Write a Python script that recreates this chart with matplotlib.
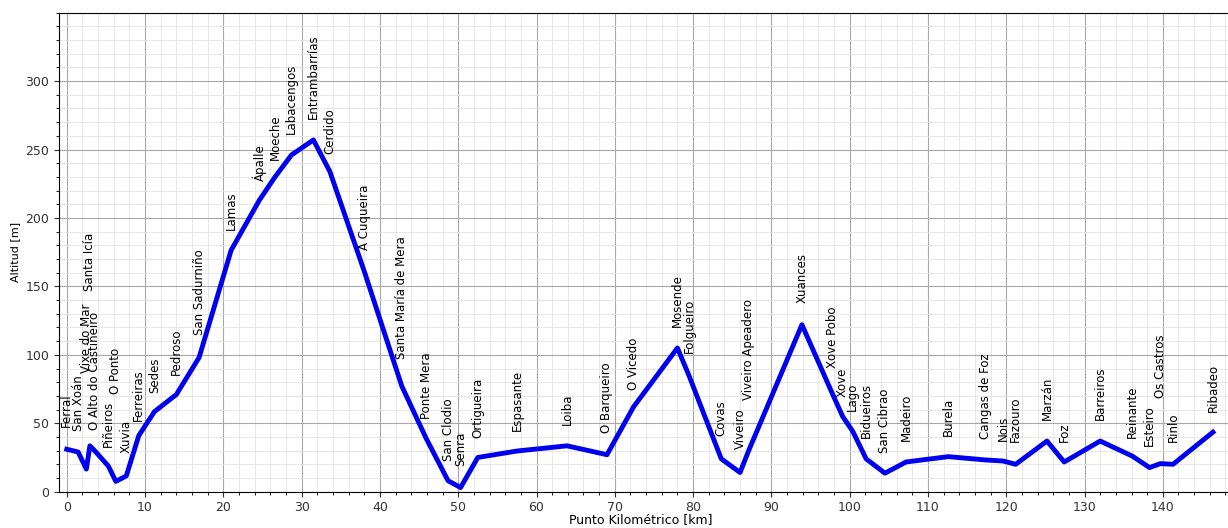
import matplotlib
matplotlib.use("Agg")
import matplotlib.pyplot as plt
from matplotlib.ticker import MultipleLocator

# Estaciones de la línea Ferrol - Ribadeo
estaciones = [
    "Ferral", "San Xoán", "Vixe do Mar", "Santa Icía", "O Alto do Castiñeiro",
    "Piñeiros", "O Ponto", "Xuvia", "Ferreiras", "Sedes", "Pedroso",
    "San Sadurniño", "Lamas", "Ápalle", "Moeche", "Labacengos",
    "Entrambarrías", "Cerdido", "A Cuqueira", "Santa María de Mera",
    "Ponte Mera", "San Clodio", "Senra", "Ortigueira", "Espasante", "Loiba",
    "O Barqueiro", "O Vicedo", "Mosende", "Folgueiro", "Covas", "Viveiro",
    "Viveiro Apeadero", "Xuances", "Xove Pobo", "Xove", "Lago", "Bidueiros",
    "San Cibrao", "Madeiro", "Burela", "Cangas de Foz", "Nois", "Fazouro",
    "Marzán", "Foz", "Barreiros", "Reinante", "Esteiro", "Os Castros",
    "Rinlo", "Ribadeo",
]

# Punto kilométrico de cada estación [km]
pk = [
    0.0, 1.45, 2.5, 2.95, 3.6,
    5.3, 6.27, 7.6, 9.2, 11.2, 14.0,
    16.9, 21.0, 24.6, 26.6, 28.7,
    31.5, 33.6, 38.0, 42.8,
    45.9, 48.7, 50.3, 52.5, 57.5, 63.9,
    69.0, 72.4, 78.0, 79.5, 83.6, 86.0,
    87.1, 93.9, 97.8, 99.1, 100.4, 102.1,
    104.5, 107.2, 112.6, 117.3, 119.6, 121.2,
    125.2, 127.4, 132.0, 136.1, 138.3, 139.7,
    141.3, 146.4,
]

# Altitud de cada estación [m]
altitud = [
    31, 29, 16.5, 33.5, 29.7,
    18.8, 7.5, 11.5, 41, 58.5, 71,
    98, 176.5, 213, 230, 246,
    257, 234, 161, 77,
    39, 8, 3, 25, 29.7, 33.5,
    27, 62, 105, 84.5, 24, 14,
    30, 122, 71.5, 55, 44, 24,
    13.5, 21.7, 25.6, 23.2, 22.4, 20,
    37, 21.7, 37, 26, 17.6, 20.5,
    20, 43.5,
]

# Separación vertical de cada rótulo sobre su estación [m]
elevacion_rotulo = [
    16, 15, 70, 113, 15,
    14, 64, 17, 11, 13.5, 14.5,
    16.5, 14.5, 14, 12.5, 15,
    15, 13, 15.5, 20,
    14, 14.5, 16, 14.5, 14.5, 15.5,
    16, 12.5, 15, 16.5, 16.5, 17,
    37, 15.5, 19, 14.5, 15, 15.5,
    15, 15.5, 15, 15, 14.5, 16,
    15.5, 14.5, 15.5, 13.5, 15.5, 48,
    16, 14.5,
]

fig = plt.figure(figsize=(12.28, 5.28), dpi=100)
ax = fig.add_axes([0.048, 0.0688, 0.9595, 0.9072])

ax.plot(pk, altitud, color="#0000ee", linewidth=3.5, solid_joinstyle="round", zorder=3)

for nombre, x, y, dy in zip(estaciones, pk, altitud, elevacion_rotulo):
    ax.text(x, y + dy, nombre, rotation=90, ha="center", va="bottom",
            fontsize=8.5, zorder=4)

ax.set_xlim(-1, 149.5)
ax.set_ylim(0, 350)
ax.xaxis.set_major_locator(MultipleLocator(10))
ax.xaxis.set_minor_locator(MultipleLocator(2))
ax.yaxis.set_major_locator(MultipleLocator(50))
ax.yaxis.set_minor_locator(MultipleLocator(10))
ax.set_yticks(range(0, 301, 50))
ax.set_xticks(range(0, 141, 10))

ax.grid(which="major", color="#a8a8a8", linewidth=0.8)
ax.grid(which="minor", color="#e4e4e4", linewidth=0.6)
ax.set_axisbelow(True)
ax.spines["right"].set_visible(False)

ax.tick_params(labelsize=9, colors="#333333")
ax.set_xlabel("Punto Kilométrico [km]", fontsize=9, labelpad=1)
ax.set_ylabel("Altitud [m]", fontsize=8)
ax.xaxis.set_label_coords(0.4940, -0.045)

fig.savefig("out.png", dpi=100)
